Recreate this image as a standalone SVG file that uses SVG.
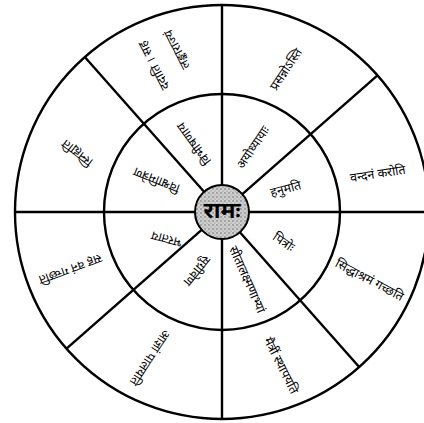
<svg xmlns="http://www.w3.org/2000/svg" width="424" height="423" viewBox="0 0 424 423">
<style>
.ln{stroke:#000;stroke-width:2.4;fill:none}
.t{font-family:"Noto Sans Devanagari","Noto Sans","Liberation Sans",sans-serif;font-size:12.5px;fill:#000;text-anchor:middle;dominant-baseline:central}
.c{font-family:"Noto Sans Devanagari","Noto Sans","Liberation Sans",sans-serif;font-size:23px;font-weight:bold;fill:#000;text-anchor:middle;dominant-baseline:central}
</style>
<defs>
<pattern id="dots" width="4" height="4" patternUnits="userSpaceOnUse">
<rect width="4" height="4" fill="#cfcfcf"/>
<circle cx="1" cy="1" r="0.7" fill="#555"/>
<circle cx="3" cy="3" r="0.5" fill="#777"/>
</pattern>
</defs>
<rect width="424" height="423" fill="#fff"/>
<g id="connectors">
<circle class="ln" cx="222" cy="212" r="207"/>
<circle class="ln" cx="222" cy="212" r="118"/>
<line class="ln" x1="222" y1="5" x2="222" y2="419"/>
<line class="ln" x1="15" y1="212" x2="424" y2="212"/>
<line class="ln" x1="84.8" y1="57" x2="359.2" y2="367"/>
<line class="ln" x1="377.5" y1="75.4" x2="66.5" y2="348.6"/>
</g>
<g id="center">
<circle cx="222" cy="212" r="27" fill="url(#dots)" stroke="#000" stroke-width="2"/>
<text class="c" x="222" y="212">रामः</text>
</g>
<g id="s1-inner"><text class="t" transform="translate(283,243) rotate(35)">पित्रोः</text></g>
<g id="s1-outer"><text class="t" transform="translate(369,281) rotate(28)">सिद्धाश्रमं गच्छति</text></g>
<g id="s2-inner"><text class="t" transform="translate(246,280) rotate(66)">सीतालक्ष्मणाभ्यां</text></g>
<g id="s2-outer"><text class="t" transform="translate(280,366) rotate(63)">मैत्रीं स्थापयति</text></g>
<g id="s3-inner"><text class="t" transform="translate(196,270) rotate(129)">सुग्रीवेण</text></g>
<g id="s3-outer"><text class="t" transform="translate(149,357) rotate(123)">आज्ञां पालयति</text></g>
<g id="s4-inner"><text class="t" transform="translate(167,238) rotate(195)">भरताय</text></g>
<g id="s4-outer"><text class="t" transform="translate(70,268) rotate(160)">सह वनं गच्छति</text></g>
<g id="s5-inner"><text class="t" transform="translate(157,179) rotate(202)">विश्वामित्रेण</text></g>
<g id="s5-outer"><text class="t" transform="translate(78,152) rotate(218)">स्निह्यति</text></g>
<g id="s6-inner"><text class="t" transform="translate(195,143) rotate(234)">विभीषणाय</text></g>
<g id="s6-outer"><text class="t" transform="translate(178,49) rotate(243)">लङ्काराज्यं</text><text class="t" transform="translate(155,65) rotate(243)">ददाति । सह</text></g>
<g id="s7-inner"><text class="t" transform="translate(254,148) rotate(-56)">अयोध्यायाः</text></g>
<g id="s7-outer"><text class="t" transform="translate(287,70) rotate(-56)">प्रसन्नोऽस्ति</text></g>
<g id="s8-inner"><text class="t" transform="translate(286,190) rotate(-15)">हनुमति</text></g>
<g id="s8-outer"><text class="t" transform="translate(378,175) rotate(-9)">वन्दनं करोति</text></g>
</svg>
